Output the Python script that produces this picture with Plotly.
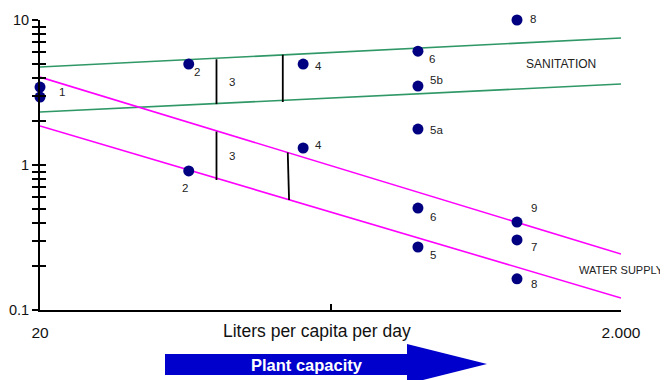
import math
import plotly.graph_objects as go

# ---- data ----
pt_x = [20, 20, 65, 161, 400, 400, 400, 877, 161, 65, 400, 400, 877, 877, 877]
pt_y = [3.45, 2.94, 4.97, 4.97, 6.1, 3.5, 1.77, 10.0, 1.31, 0.91, 0.505, 0.272, 0.404, 0.304, 0.164]
pt_lab = ["1", "", "2", "4", "6", "5b", "5a", "8", "4", "2", "6", "5", "9", "7", "8"]
# label offsets in pixels (style)
lab_dx = [22, 0, 8, 15, 14, 19, 19, 16, 15, -4, 15, 15, 17, 17, 17]
lab_dy = [-5, 0, -8, -2, -8, 6, -1, 1, 3, -17, -9, -8, 14, -7, -5]

line_x = [20, 2000]
san_upper = [4.74, 7.51]
san_lower = [2.32, 3.62]
ws_upper = [4.04, 0.243]
ws_lower = [1.86, 0.121]

# vertical bars (x values, y values)
bars = [
    ([81, 81], [5.36, 2.63]),
    ([137, 137], [5.76, 2.72]),
    ([81, 81], [1.70, 0.788]),
    ([142.5, 144], [1.22, 0.574]),
]
bar_lab_x = [81, 81]
bar_lab_y = [3.75, 1.16]

y_tickvals = [0.1, 0.2, 0.3, 0.4, 0.5, 0.6, 0.7, 0.8, 0.9,
              1, 2, 3, 4, 5, 6, 7, 8, 9, 10]
y_ticktext = ["0.1"] + [""] * 8 + ["1"] + [""] * 8 + ["10"]
x_tickvals = [20, 200, 2000]
x_ticktext = ["20", "", "2.000"]

FONT = "Arial, Liberation Sans, sans-serif"
GREEN = "#2f9866"
MAGENTA = "#ff00ff"

fig = go.Figure()

for ys, col in [(san_upper, GREEN), (san_lower, GREEN), (ws_upper, MAGENTA), (ws_lower, MAGENTA)]:
    fig.add_trace(go.Scatter(x=line_x, y=ys, mode="lines", line=dict(color=col, width=1.6),
                             hoverinfo="skip", showlegend=False))

for bx, by in bars:
    fig.add_trace(go.Scatter(x=bx, y=by, mode="lines", line=dict(color="black", width=1.8),
                             hoverinfo="skip", showlegend=False))

fig.add_trace(go.Scatter(x=pt_x, y=pt_y, mode="markers", cliponaxis=False,
                         marker=dict(color="#000080", size=11), showlegend=False))

# invisible trace for overlay axis (crossing ticks)
fig.add_trace(go.Scatter(x=[100], y=[1], yaxis="y2", mode="markers",
                         marker=dict(opacity=0), hoverinfo="skip", showlegend=False))

lg = math.log10
ann = []
for x, y, t, dx, dy in zip(pt_x, pt_y, pt_lab, lab_dx, lab_dy):
    if t:
        ann.append(dict(x=lg(x), y=lg(y), xref="x", yref="y", text=t, showarrow=False,
                        xanchor="center", yanchor="middle",
                        xshift=dx, yshift=dy, font=dict(family=FONT, size=11.5, color="#222")))
for x, y in zip(bar_lab_x, bar_lab_y):
    ann.append(dict(x=lg(x), y=lg(y), xref="x", yref="y", text="3", showarrow=False,
                    xanchor="center", yanchor="middle",
                    xshift=16, font=dict(family=FONT, size=11.5, color="#222")))

# plot area in page pixels; the page body has an 8px default margin
OFF = 8
L, R, T, B = 40, 621, 20, 310
def px(x):
    return (x - L) / (R - L)
def py(y):
    return (B - y) / (B - T)

ann.append(dict(x=px(524), y=py(64), xref="paper", yref="paper", text="SANITATION",
                showarrow=False, xanchor="left", yanchor="middle",
                font=dict(family=FONT, size=12, color="#222")))
ann.append(dict(x=px(577), y=py(270), xref="paper", yref="paper", text="WATER SUPPLY",
                showarrow=False, xanchor="left", yanchor="middle",
                font=dict(family=FONT, size=11, color="#222")))
ann.append(dict(x=px(317), y=py(331), xref="paper", yref="paper", text="Liters per capita per day",
                showarrow=False, xanchor="center", yanchor="middle",
                font=dict(family=FONT, size=17.5, color="#111")))
ann.append(dict(x=px(307), y=py(365), xref="paper", yref="paper", text="<b>Plant capacity</b>",
                showarrow=False, xanchor="center", yanchor="middle",
                font=dict(family=FONT, size=16.5, color="white")))

arrow = (f"M {px(165)} {py(354)} L {px(407)} {py(354)} L {px(407)} {py(344)} "
         f"L {px(487)} {py(364)} L {px(407)} {py(384)} L {px(407)} {py(375)} "
         f"L {px(165)} {py(375)} Z")

fig.update_layout(
    width=668, height=380,
    margin=dict(l=L - OFF, r=668 - R + OFF, t=T - OFF, b=380 - B + OFF, autoexpand=False),
    paper_bgcolor="white", plot_bgcolor="white",
    font=dict(family=FONT, size=14, color="#111"),
    annotations=ann,
    shapes=[dict(type="path", path=arrow, xref="paper", yref="paper",
                 fillcolor="#0000cc", line=dict(width=0), layer="below")],
    xaxis=dict(type="log", range=[lg(19.995), lg(2000)], tickvals=x_tickvals, ticktext=x_ticktext,
               ticks="inside", ticklen=6, tickwidth=1.5, tickcolor="black", automargin=False,
               showline=True, linecolor="black", linewidth=2, showgrid=False, zeroline=False,
               ticklabelstandoff=7, tickfont=dict(size=15.5)),
    yaxis=dict(type="log", range=[-1, 1], tickvals=y_tickvals, ticktext=y_ticktext,
               ticks="outside", ticklen=6, tickwidth=1.5, tickcolor="black", automargin=False,
               showline=True, linecolor="black", linewidth=2, showgrid=False, zeroline=False,
               tickfont=dict(size=14.5)),
    yaxis2=dict(type="log", range=[-1, 1], overlaying="y", side="left", anchor="x",
                tickvals=y_tickvals, ticks="inside", ticklen=6, tickwidth=1.5, tickcolor="black",
                automargin=False,
                showticklabels=False, showline=False, showgrid=False, zeroline=False),
)

fig.write_html("out.html")
